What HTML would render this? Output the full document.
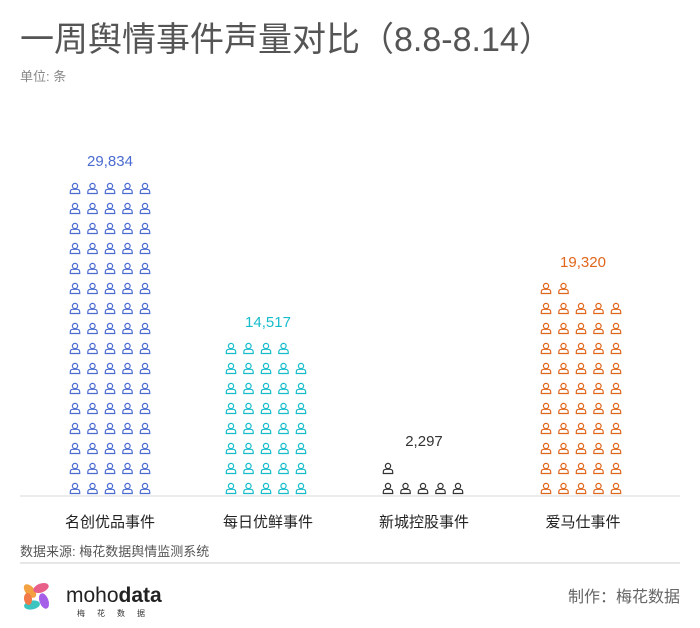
<!DOCTYPE html>
<html><head><meta charset="utf-8"><style>
body{margin:0;width:700px;height:628px;background:#fff;font-family:"Liberation Sans","Noto Sans CJK SC",sans-serif;position:relative;overflow:hidden}
.a{position:absolute;white-space:nowrap}
</style></head><body>
<div class="a" style="left:20px;top:12px;font-size:34px;color:#555">一周舆情事件声量对比（8.8-8.14）</div>
<div class="a" style="left:20px;top:66px;font-size:13px;color:#888">单位: 条</div>
<svg class="a" style="left:0;top:0" width="700" height="628">
<defs>
<g id="p" fill="none" stroke-width="1.2">
<circle cx="5.5" cy="3" r="2.6"/>
<path d="M0.8 10.5 V9 Q0.8 6.3 3.5 6.3 H7.5 Q10.2 6.3 10.2 9 V10.5 Z"/>
</g>
</defs>
<g id="icons"></g>
<line x1="20" y1="496" x2="680" y2="496" stroke="#e6e6e6" stroke-width="1.5"/>
<line x1="20" y1="563" x2="680" y2="563" stroke="#ddd" stroke-width="1.5"/>
<g font-size="15" text-anchor="middle" font-family="Liberation Sans,sans-serif">
<text x="110" y="166" fill="#4a6bd0">29,834</text>
<text x="268" y="327" fill="#17bccb">14,517</text>
<text x="424" y="446" fill="#333">2,297</text>
<text x="583" y="267" fill="#e0661c">19,320</text>
</g>
<g font-size="15" text-anchor="middle" fill="#222">
<text x="110" y="527">名创优品事件</text>
<text x="268" y="527">每日优鲜事件</text>
<text x="424" y="527">新城控股事件</text>
<text x="583" y="527">爱马仕事件</text>
</g>
<text x="20" y="556" font-size="13" fill="#555">数据来源: 梅花数据舆情监测系统</text>
<text x="680" y="602" font-size="16" fill="#666" text-anchor="end">制作：梅花数据</text>
<g transform="translate(37,597)">
<ellipse cx="-7" cy="-6" rx="8" ry="4.5" fill="#f4a142" transform="rotate(50 -7 -6)"/>
<ellipse cx="4" cy="-9" rx="8" ry="4.5" fill="#e8608a" transform="rotate(-20 4 -9)"/>
<ellipse cx="7" cy="4" rx="8" ry="4.5" fill="#a45ee8" transform="rotate(70 7 4)"/>
<ellipse cx="-5" cy="8" rx="8" ry="4.5" fill="#3cc4c0" transform="rotate(-10 -5 8)"/>
<ellipse cx="-9" cy="2" rx="6" ry="4" fill="#f27a4a" transform="rotate(80 -9 2)"/>
</g>
<text x="66" y="602" font-size="21" fill="#222">moho<tspan font-weight="bold">data</tspan></text>
<text x="77" y="616" font-size="8" fill="#333" letter-spacing="12">梅花数据</text>
</svg>
<script>
var g=document.getElementById('icons'),s='';
var groups=[[110-35,16,5,'#4a6bd0'],[266-35,8,4,'#17bccb'],[423-35,2,1,'#333'],[581-35,11,2,'#e0661c']];
groups.forEach(function(d){for(var r=0;r<d[1];r++){var n=(r==d[1]-1)?d[2]:5;for(var c=0;c<n;c++){s+='<use href="#p" stroke="'+d[3]+'" x="'+(d[0]+c*17.5-5.5)+'" y="'+(483-20*r)+'"/>';}}});
g.innerHTML=s;
</script>
</body></html>
